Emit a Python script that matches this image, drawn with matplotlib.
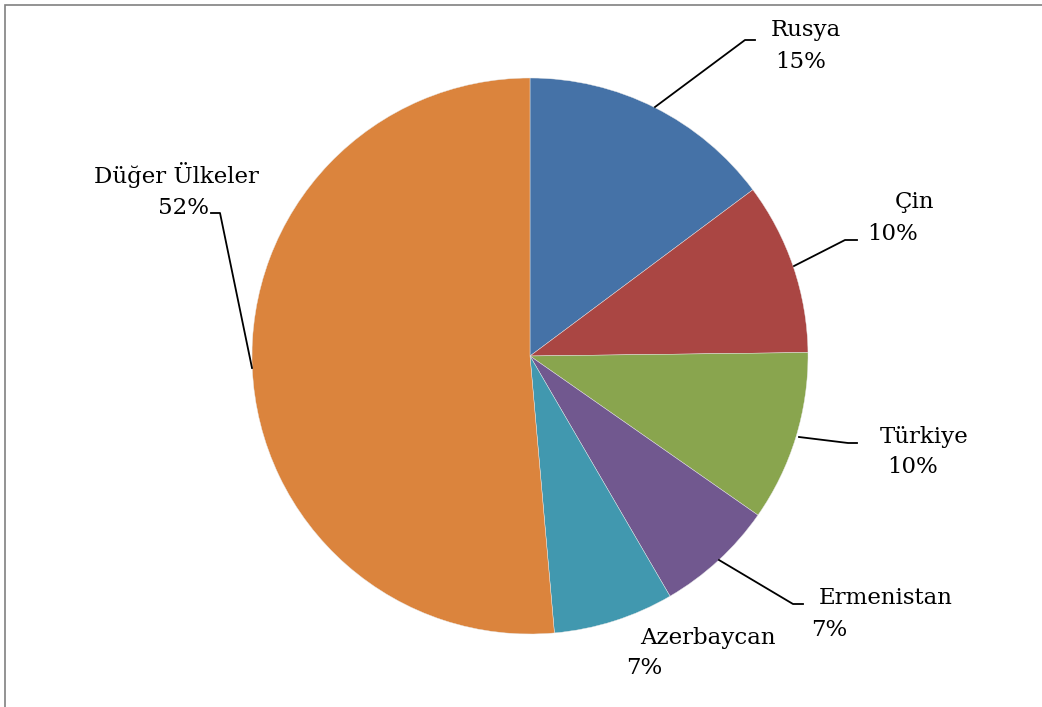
import matplotlib
matplotlib.use("Agg")
import matplotlib.pyplot as plt
from matplotlib.patches import Rectangle

# Data
countries = ["Rusya", "Çin", "Türkiye", "Ermenistan", "Azerbaycan", "Düğer Ülkeler"]
shares = [14.8, 10.0, 9.9, 6.9, 7.0, 51.4]
pct_labels = ["15%", "10%", "10%", "7%", "7%", "52%"]
colors = ["#4572A7", "#AA4643", "#89A54E", "#71588F", "#4198AF", "#DB843D"]

W, H = 1042, 707
fig = plt.figure(figsize=(W / 100, H / 100), dpi=100)
ax = fig.add_axes([0, 0, 1, 1])
ax.set_xlim(0, W)
ax.set_ylim(0, H)
ax.set_aspect("equal")
ax.axis("off")

def Y(yp):
    return H - yp

cx, cy, r = 530, Y(356), 278
ax.pie(shares, colors=colors, startangle=90, counterclock=False,
       center=(cx, cy), radius=r, frame=True,
       wedgeprops=dict(linewidth=0.3, edgecolor="#e8e8e8"))
ax.set_xlim(0, W)
ax.set_ylim(0, H)
ax.axis("off")

# chart border (top and left visible)
fig.patches.append(Rectangle((5 / W, -0.1), 1.2, (H - 5) / H + 0.1,
                             transform=fig.transFigure, fill=False,
                             edgecolor="#808080", linewidth=1.2))

font = dict(family="DejaVu Serif", fontsize=16.5, color="black",
            ha="center", va="center")

# label positions (name line, pct line) in pixel coords
name_pos = [(806, 30), (915, 202), (924, 437), (886, 598), (708, 638), (176, 175)]
pct_pos = [(801, 62), (893, 234), (913, 467), (829, 630), (644, 668), (183, 208)]
for name, pct, npos, ppos in zip(countries, pct_labels, name_pos, pct_pos):
    ax.text(npos[0], Y(npos[1]), name, **font)
    ax.text(ppos[0], Y(ppos[1]), pct, **font)

# leader lines
leaders = [
    [(655, 107), (745, 40), (755, 40)],
    [(794, 266), (845, 240), (857, 240)],
    [(799, 437), (848, 443), (857, 443)],
    [(719, 560), (793, 604), (803, 604)],
    [(211, 213), (220, 213), (252, 368)],
]
for pts in leaders:
    ax.plot([p[0] for p in pts], [Y(p[1]) for p in pts], color="black", lw=1.3)

fig.savefig("out.png", dpi=100)
